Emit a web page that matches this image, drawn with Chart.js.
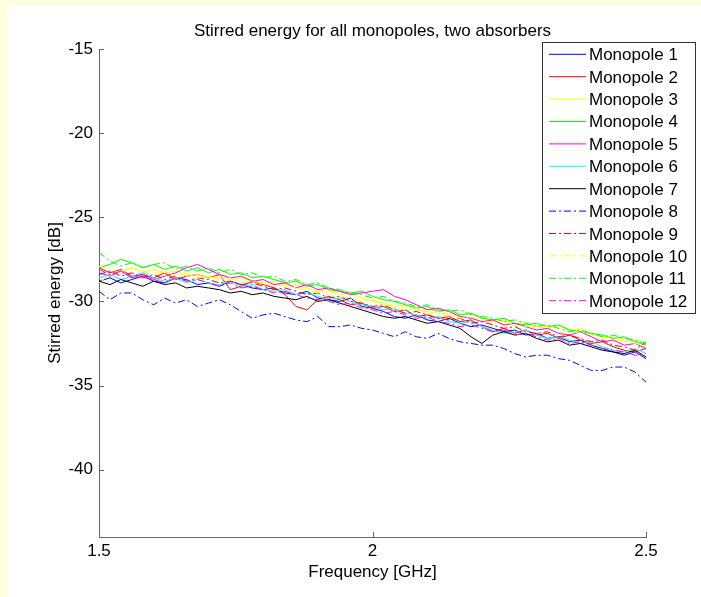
<!DOCTYPE html>
<html>
<head>
<meta charset="utf-8">
<script src="https://cdn.jsdelivr.net/npm/chart.js@4.4.1/dist/chart.umd.min.js"></script>
<style>
  body { margin: 0; background: #ffffe0; }
  #wrap { position: absolute; left: 7px; top: 5px; width: 694px; height: 592px; background: #fff; }
</style>
</head>
<body>
<div id="wrap"><canvas id="chart" width="694" height="592"></canvas></div>
<script>
// Global font settings
const FONT = '"Liberation Sans", Arial, sans-serif';
Chart.defaults.font.family = FONT;
Chart.defaults.font.size = 17;
Chart.defaults.color = '#000';

const AXIS_COLOR = '#666';
const TITLE = 'Stirred energy for all monopoles, two absorbers';

// Frequency points [GHz]
const FREQ = [
    1.50, 1.52, 1.54, 1.56, 1.58, 1.60, 1.62, 1.64, 1.66, 1.68,
    1.70, 1.72, 1.74, 1.76, 1.78, 1.80, 1.82, 1.84, 1.86, 1.88,
    1.90, 1.92, 1.94, 1.96, 1.98, 2.00, 2.02, 2.04, 2.06, 2.08,
    2.10, 2.12, 2.14, 2.16, 2.18, 2.20, 2.22, 2.24, 2.26, 2.28,
    2.30, 2.32, 2.34, 2.36, 2.38, 2.40, 2.42, 2.44, 2.46, 2.48, 2.50
];
const X_TICKS = [1.5, 2, 2.5];
const Y_TICKS = [-40, -35, -30, -25, -20, -15];

// Stirred energy [dB], one array per monopole
const MONO_1 = [
    -28.8, -28.6, -28.9, -28.7, -28.5, -28.8, -28.9, -28.6, -28.7, -29.0,
    -28.9, -29.1, -28.8, -29.0, -29.2, -29.3, -29.2, -29.5, -29.6, -29.4,
    -29.8, -29.9, -30.0, -29.8, -30.3, -30.4, -30.6, -30.9, -31.0, -30.8,
    -31.1, -31.2, -31.0, -31.3, -31.5, -31.4, -31.6, -31.8, -31.7, -32.0,
    -31.9, -32.2, -32.1, -32.4, -32.3, -32.6, -32.8, -33.0, -33.2, -33.0, -33.4
];
const MONO_2 = [
    -28.0, -28.3, -28.1, -28.5, -28.4, -28.6, -28.3, -28.7, -28.5, -28.4,
    -28.6, -28.4, -29.3, -29.1, -28.8, -29.0, -29.2, -29.6, -30.3, -30.5,
    -29.9, -29.7, -29.9, -30.2, -30.1, -30.4, -30.3, -30.6, -30.5, -30.9,
    -30.8, -31.0, -30.9, -31.2, -31.1, -31.5, -31.8, -31.6, -31.9, -31.7,
    -32.0, -31.9, -32.2, -32.0, -32.3, -32.5, -32.4, -32.7, -32.9, -33.0, -32.8
];
const MONO_3 = [
    -28.9, -28.4, -28.2, -28.0, -28.3, -28.1, -28.3, -28.2, -28.5, -28.4,
    -28.6, -28.5, -28.7, -28.6, -28.8, -28.9, -28.8, -29.1, -29.0, -29.2,
    -29.4, -29.3, -29.6, -29.5, -29.8, -30.0, -30.1, -30.3, -30.2, -30.5,
    -30.6, -30.5, -30.8, -30.9, -30.7, -31.0, -31.2, -31.1, -31.4, -31.2,
    -31.5, -31.6, -31.4, -31.7, -31.6, -31.9, -32.1, -32.2, -32.4, -32.3, -32.6
];
const MONO_4 = [
    -28.0, -27.8, -27.5, -27.7, -28.0, -27.8, -28.1, -27.9, -28.2, -28.0,
    -28.3, -28.1, -28.4, -28.3, -28.6, -28.5, -28.7, -28.9, -28.8, -29.1,
    -29.0, -29.3, -29.4, -29.5, -29.4, -29.7, -29.9, -30.0, -30.2, -30.4,
    -30.3, -30.6, -30.5, -30.8, -30.7, -31.0, -31.1, -31.0, -31.3, -31.4,
    -31.3, -31.5, -31.4, -31.7, -31.8, -31.9, -32.0, -32.2, -32.1, -32.4, -32.6
];
const MONO_5 = [
    -28.3, -28.5, -28.2, -28.6, -28.4, -28.7, -28.5, -28.3, -28.0, -27.8,
    -28.1, -28.4, -28.6, -28.5, -28.8, -28.7, -29.0, -28.9, -29.2, -29.0,
    -29.3, -29.2, -29.4, -29.6, -29.5, -29.4, -29.3, -29.7, -29.9, -30.2,
    -30.5, -30.4, -30.6, -30.9, -31.0, -31.2, -31.1, -31.4, -31.3, -31.5,
    -31.7, -31.6, -31.9, -32.0, -31.8, -32.1, -32.4, -32.3, -32.6, -32.5, -32.8
];
const MONO_6 = [
    -28.6, -28.4, -28.7, -28.5, -28.3, -28.6, -28.8, -28.6, -28.9, -28.7,
    -28.9, -29.0, -28.8, -29.1, -29.0, -29.3, -29.4, -29.3, -29.6, -29.5,
    -29.7, -29.9, -29.8, -30.0, -30.2, -30.3, -30.5, -30.4, -30.7, -30.8,
    -31.0, -30.9, -31.2, -31.3, -31.2, -31.5, -31.7, -31.9, -31.8, -31.7,
    -32.0, -32.2, -32.1, -32.3, -32.5, -32.4, -32.7, -32.9, -33.0, -32.8, -33.1
];
const MONO_7 = [
    -28.8, -29.0, -28.7, -28.9, -29.1, -28.8, -29.0, -28.9, -29.2, -29.1,
    -29.2, -29.3, -29.5, -29.4, -29.6, -29.5, -29.7, -29.8, -29.9, -29.7,
    -30.0, -29.9, -30.1, -30.3, -30.5, -30.7, -30.9, -31.0, -30.9, -31.1,
    -31.3, -31.2, -31.4, -31.6, -32.1, -32.5, -32.0, -31.8, -32.0, -31.9,
    -32.2, -32.4, -32.3, -32.6, -32.5, -32.7, -32.9, -33.0, -33.1, -32.9, -33.3
];
const MONO_8 = [
    -29.4, -29.9, -29.5, -29.5, -29.9, -30.2, -29.8, -30.1, -29.9, -30.3,
    -30.1, -29.9, -30.2, -30.6, -31.0, -30.8, -30.7, -30.9, -31.1, -31.2,
    -30.9, -31.5, -31.5, -31.4, -31.6, -31.7, -31.9, -32.1, -31.8, -32.1,
    -32.2, -31.9, -32.2, -32.4, -32.5, -32.6, -32.6, -32.8, -33.1, -33.3,
    -33.2, -33.2, -33.4, -33.5, -33.8, -34.1, -34.1, -33.9, -33.9, -34.2, -34.8
];
const MONO_9 = [
    -28.4, -28.2, -28.5, -28.3, -28.6, -28.4, -28.7, -28.5, -28.8, -28.6,
    -28.7, -28.9, -28.8, -29.0, -28.9, -29.1, -29.3, -29.2, -29.4, -29.6,
    -29.5, -29.8, -29.7, -30.0, -30.1, -30.3, -30.2, -30.5, -30.7, -30.6,
    -30.8, -31.0, -31.1, -31.0, -31.3, -31.2, -31.4, -31.6, -31.5, -31.8,
    -31.9, -31.8, -32.1, -32.0, -32.2, -32.4, -32.3, -32.6, -32.7, -32.9, -32.4
];
const MONO_10 = [
    -27.9, -28.1, -28.3, -28.0, -28.2, -28.4, -28.2, -28.5, -28.3, -28.6,
    -28.5, -28.7, -28.6, -28.9, -28.7, -29.0, -29.1, -29.0, -29.2, -29.3,
    -29.5, -29.4, -29.7, -29.8, -30.0, -29.9, -30.2, -30.3, -30.5, -30.4,
    -30.7, -30.6, -30.9, -31.0, -30.9, -31.1, -31.3, -31.2, -31.4, -31.5,
    -31.6, -31.5, -31.8, -31.9, -31.8, -32.0, -32.2, -32.1, -32.3, -32.5, -32.7
];
const MONO_11 = [
    -27.1, -27.6, -27.9, -27.7, -28.0, -27.8, -27.7, -28.1, -27.9, -28.2,
    -28.0, -28.3, -28.1, -28.4, -28.3, -28.6, -28.5, -28.8, -28.7, -29.0,
    -28.9, -29.2, -29.3, -29.5, -29.6, -29.8, -29.7, -30.0, -30.1, -30.3,
    -30.2, -30.5, -30.6, -30.5, -30.8, -30.9, -31.0, -31.2, -31.1, -31.3,
    -31.5, -31.4, -31.6, -31.8, -31.7, -31.9, -32.1, -32.0, -32.2, -32.3, -32.5
];
const MONO_12 = [
    -28.1, -28.4, -28.2, -28.6, -28.5, -28.7, -28.9, -28.6, -28.8, -28.7,
    -28.9, -29.1, -28.9, -29.2, -29.1, -29.3, -29.5, -29.4, -29.6, -29.8,
    -29.9, -30.0, -30.2, -30.1, -30.4, -30.5, -30.7, -30.6, -30.8, -31.0,
    -30.9, -31.2, -31.3, -31.5, -31.4, -31.6, -31.8, -31.7, -32.0, -31.9,
    -32.1, -32.3, -32.2, -32.5, -32.4, -32.6, -32.8, -32.9, -33.0, -33.2, -33.1
];

const SERIES = [MONO_1, MONO_2, MONO_3, MONO_4, MONO_5, MONO_6,
                MONO_7, MONO_8, MONO_9, MONO_10, MONO_11, MONO_12];
const LINE_COLORS = ['#0000ff', '#ff0000', '#ffff00', '#00ff00', '#ff00ff', '#00ffff',
                     '#000000', '#0000ff', '#ff0000', '#ffff00', '#00ff00', '#ff00ff'];
const DASH_DOT = [7, 3, 2, 3];

// Ticks drawn inside the axes, matlab style
const insideTicks = {
    id: 'insideTicks',
    afterDraw(chart) {
        const {ctx, chartArea: a, scales: {x, y}} = chart;
        ctx.save();
        ctx.strokeStyle = AXIS_COLOR;
        ctx.lineWidth = 1;
        ctx.beginPath();
        x.ticks.forEach(t => {
            const px = Math.round(x.getPixelForValue(t.value)) + 0.5;
            ctx.moveTo(px, a.bottom);
            ctx.lineTo(px, a.bottom - 5);
        });
        y.ticks.forEach(t => {
            const py = Math.round(y.getPixelForValue(t.value)) + 0.5;
            ctx.moveTo(a.left, py);
            ctx.lineTo(a.left + 5, py);
        });
        ctx.stroke();
        ctx.restore();
    }
};

// Title above the plot
const plotTitle = {
    id: 'plotTitle',
    afterDraw(chart) {
        const {ctx, chartArea: a} = chart;
        ctx.save();
        ctx.font = '17px ' + FONT;
        ctx.fillStyle = '#000';
        ctx.textAlign = 'center';
        ctx.textBaseline = 'alphabetic';
        ctx.fillText(TITLE, (a.left + a.right) / 2, 31);
        ctx.restore();
    }
};

// Boxed legend in the upper right corner
const boxLegend = {
    id: 'boxLegend',
    afterDraw(chart) {
        const {ctx} = chart;
        const L = 535, T = 37, W = 153, H = 271, ROW = 22.4;
        ctx.save();
        ctx.fillStyle = '#fff';
        ctx.fillRect(L, T, W, H);
        ctx.strokeStyle = '#333';
        ctx.lineWidth = 1;
        ctx.strokeRect(L + 0.5, T + 0.5, W, H);
        ctx.font = '17px ' + FONT;
        ctx.textBaseline = 'middle';
        chart.data.datasets.forEach((ds, i) => {
            const cy = T + 12.3 + i * ROW;  // not snapped, soft like the original
            ctx.strokeStyle = ds.borderColor;
            ctx.setLineDash(ds.borderDash || []);
            ctx.beginPath();
            ctx.moveTo(L + 7, cy);
            ctx.lineTo(L + 44, cy);
            ctx.stroke();
            ctx.setLineDash([]);
            ctx.fillStyle = '#000';
            ctx.fillText(ds.label, L + 47, Math.round(cy) + 1);
        });
        ctx.restore();
    }
};

new Chart(document.getElementById('chart'), {
    type: 'line',
    data: {
        datasets: SERIES.map((vals, i) => ({
            label: 'Monopole ' + (i + 1),
            data: FREQ.map((f, j) => ({x: f, y: vals[j]})),
            borderColor: LINE_COLORS[i],
            borderDash: i >= 7 ? DASH_DOT : [],
            borderWidth: 1,
            pointRadius: 0,
            tension: 0,
            fill: false,
            order: SERIES.length - i
        }))
    },
    options: {
        responsive: false,
        animation: false,
        devicePixelRatio: 1,
        events: [],
        layout: { padding: { left: 0, top: 44, right: 55, bottom: 0 } },
        plugins: {
            legend: { display: false },
            title: { display: false },
            tooltip: { enabled: false }
        },
        scales: {
            x: {
                type: 'linear',
                min: 1.5,
                max: 2.5,
                afterBuildTicks: s => { s.ticks = X_TICKS.map(v => ({value: v})); },
                afterFit: s => { s.height = 60; },
                ticks: { padding: 4, maxRotation: 0, autoSkip: false, callback: v => String(v) },
                grid: { display: false, drawTicks: false },
                border: { display: true, color: AXIS_COLOR },
                title: { display: true, text: 'Frequency [GHz]', padding: { top: 0, bottom: 14 } }
            },
            y: {
                type: 'linear',
                min: -44,
                max: -15,
                afterBuildTicks: s => { s.ticks = Y_TICKS.map(v => ({value: v})); },
                afterFit: s => { s.width = 92; },
                ticks: { padding: 6, autoSkip: false, callback: v => String(v) },
                grid: { display: false, drawTicks: false },
                border: { display: true, color: AXIS_COLOR },
                title: { display: true, text: 'Stirred energy [dB]', padding: { top: 38, bottom: 0 } }
            }
        }
    },
    plugins: [insideTicks, plotTitle, boxLegend]
});
</script>
</body>
</html>
